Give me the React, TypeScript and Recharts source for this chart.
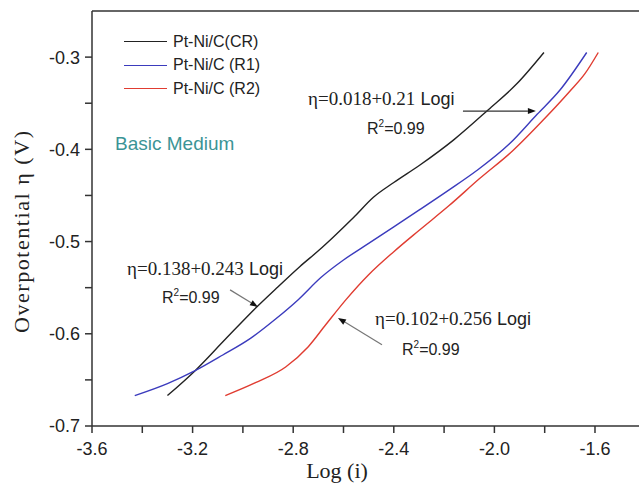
import React from "react";
import { LineChart, Line, XAxis, YAxis, Legend, ReferenceLine } from "recharts";

// Tafel plots
const crLogI = [-3.3, -3.19, -3.07, -2.945, -2.86, -2.773, -2.7, -2.64, -2.56, -2.481, -2.4, -2.296, -2.163, -2.024, -1.911, -1.803];
const crEta = [-0.667, -0.64, -0.606, -0.571, -0.549, -0.527, -0.51, -0.495, -0.474, -0.452, -0.436, -0.417, -0.39, -0.357, -0.329, -0.295];

const r1LogI = [-3.43, -3.3, -3.19, -3.08, -2.97, -2.87, -2.78, -2.69, -2.6, -2.5, -2.4, -2.3, -2.18, -2.07, -1.94, -1.83, -1.74, -1.633];
const r1Eta = [-0.667, -0.654, -0.64, -0.623, -0.605, -0.584, -0.563, -0.539, -0.52, -0.502, -0.484, -0.466, -0.444, -0.423, -0.394, -0.362, -0.336, -0.295];

const r2LogI = [-3.07, -2.95, -2.83, -2.74, -2.67, -2.59, -2.5, -2.4, -2.3, -2.18, -2.06, -1.925, -1.805, -1.7, -1.64, -1.587];
const r2Eta = [-0.667, -0.653, -0.636, -0.614, -0.59, -0.563, -0.536, -0.511, -0.488, -0.461, -0.432, -0.401, -0.368, -0.337, -0.318, -0.295];

const seriesNames = ["Pt-Ni/C(CR)", "Pt-Ni/C (R1)", "Pt-Ni/C (R2)"];
const seriesColors = ["#222222", "#3b3bbd", "#e03c31"];

const xTicks = [-3.6, -3.4, -3.2, -3.0, -2.8, -2.6, -2.4, -2.2, -2.0, -1.8, -1.6];
const xMajor = [-3.6, -3.2, -2.8, -2.4, -2.0, -1.6];
const yTicks = [-0.7, -0.65, -0.6, -0.55, -0.5, -0.45, -0.4, -0.35, -0.3];
const yMajor = [-0.7, -0.6, -0.5, -0.4, -0.3];

// fit annotations: arrows in data units
const arrows = [
  { from: { x: -2.125, y: -0.3585 }, to: { x: -1.835, y: -0.3585 }, color: "#333" },
  { from: { x: -3.051, y: -0.5524 }, to: { x: -2.94, y: -0.5709 }, color: "#777" },
  { from: { x: -2.447, y: -0.612 }, to: { x: -2.622, y: -0.5828 }, color: "#777" },
];

const toPoints = (xs: number[], ys: number[]) => xs.map((x, i) => ({ x, y: ys[i] }));
const seriesData = [toPoints(crLogI, crEta), toPoints(r1LogI, r1Eta), toPoints(r2LogI, r2Eta)];

const serif = "'Liberation Serif', 'Times New Roman', serif";
const sans = "'Liberation Sans', Arial, sans-serif";

const ArrowShape = (props: any) => {
  const { x1, y1, x2, y2, stroke } = props;
  const a = Math.atan2(y2 - y1, x2 - x1);
  const L = 8;
  const W = 3;
  const bx = x2 - L * Math.cos(a);
  const by = y2 - L * Math.sin(a);
  const pts = `${x2},${y2} ${bx + W * Math.sin(a)},${by - W * Math.cos(a)} ${bx - W * Math.sin(a)},${by + W * Math.cos(a)}`;
  return (
    <g>
      <line x1={x1} y1={y1} x2={bx} y2={by} stroke={stroke} strokeWidth={1.2} />
      <polygon points={pts} fill="#111" />
    </g>
  );
};

const Fit = ({ x, y, eq, rx, ry }: { x: number; y: number; eq: string; rx: number; ry: number }) => (
  <g fill="#222">
    <text x={x} y={y} fontFamily={serif} fontSize={19}>
      {eq}
      <tspan fontFamily={sans} fontSize={18}> Logi</tspan>
    </text>
    <text x={rx} y={ry} fontFamily={sans} fontSize={16}>
      R<tspan fontSize={10} dy={-7}>2</tspan>
      <tspan dy={7}>=0.99</tspan>
    </text>
  </g>
);

const renderLegend = () => (
  <div style={{ fontFamily: sans, fontSize: 16, color: "#222" }}>
    {seriesNames.map((n, i) => (
      <div key={n} style={{ display: "flex", alignItems: "center", height: 23.5, whiteSpace: "nowrap" }}>
        <span style={{ display: "inline-block", width: 43, borderTop: `1.5px solid ${seriesColors[i]}`, marginRight: 6 }} />
        {n}
      </div>
    ))}
  </div>
);

export default function App() {
  return (
    <div style={{ position: "absolute", left: 0, top: 0, background: "#fff" }}>
      <LineChart width={639} height={487} margin={{ top: 11, right: 0, bottom: 0, left: 0 }}>
        <XAxis
          type="number"
          dataKey="x"
          domain={[-3.6, -1.425]}
          allowDataOverflow
          ticks={xTicks}
          interval={0}
          height={61}
          tickSize={7}
          tickMargin={9}
          tickFormatter={(v: number) => (xMajor.includes(v) ? v.toFixed(1) : "")}
          tick={{ fill: "#222", fontSize: 18, fontFamily: sans }}
          axisLine={{ stroke: "#333", strokeWidth: 1.5 }}
          tickLine={{ stroke: "#333", strokeWidth: 1.5 }}
        />
        <YAxis
          type="number"
          dataKey="y"
          domain={[-0.7, -0.25]}
          allowDataOverflow
          ticks={yTicks}
          interval={0}
          width={92}
          tickSize={7}
          tickMargin={5}
          tickFormatter={(v: number) => (yMajor.includes(v) ? v.toFixed(1) : "")}
          tick={{ fill: "#222", fontSize: 18, fontFamily: sans }}
          axisLine={{ stroke: "#333", strokeWidth: 1.5 }}
          tickLine={{ stroke: "#333", strokeWidth: 1.5 }}
        />
        <ReferenceLine y={-0.25} stroke="#333" strokeWidth={1.5} />
        {seriesData.map((d, i) => (
          <Line
            key={seriesNames[i]}
            data={d}
            dataKey="y"
            name={seriesNames[i]}
            type="monotone"
            stroke={seriesColors[i]}
            strokeWidth={1.4}
            dot={false}
            isAnimationActive={false}
          />
        ))}
        {arrows.map((a, i) => (
          <ReferenceLine key={i} segment={[a.from, a.to]} stroke={a.color} shape={ArrowShape} />
        ))}
        <Legend
          layout="vertical"
          align="center"
          verticalAlign="middle"
          content={renderLegend}
          wrapperStyle={{ left: 124, top: 30, width: "auto" }}
        />
        <text x={115} y={150} fill="#3b9496" fontFamily={sans} fontSize={19}>
          Basic Medium
        </text>
        <Fit x={308} y={105} eq="η=0.018+0.21" rx={367} ry={134} />
        <Fit x={127} y={275} eq="η=0.138+0.243" rx={162} ry={303} />
        <Fit x={375} y={325} eq="η=0.102+0.256" rx={402} ry={355} />
        <text x={337} y={478} textAnchor="middle" fill="#222" fontFamily={serif} fontSize={22}>
          Log (i)
        </text>
        <text
          transform="translate(29,232) rotate(-90)"
          textAnchor="middle"
          fill="#222"
          fontFamily={serif}
          fontSize={22}
          textLength={202}
          lengthAdjust="spacing"
        >
          Overpotential η (V)
        </text>
      </LineChart>
    </div>
  );
}
